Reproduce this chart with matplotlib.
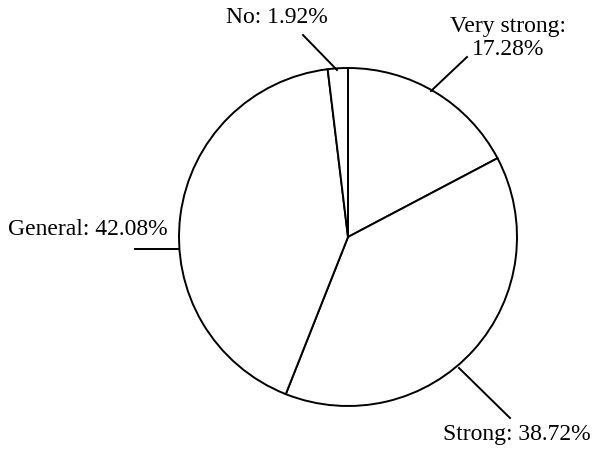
import matplotlib
matplotlib.use('Agg')
import matplotlib.pyplot as plt

# 数据
labels = ['Very strong', 'Strong', 'General', 'No']
shares = [17.28, 38.72, 42.08, 1.92]

# 标签位置 (像素, 从上往下量)
text_pos = [(508, 38, 'center'), (443, 440, 'left'), (8, 235, 'left'), (226, 23, 'left')]
# 引线 (起点在圆上, 终点靠近文字)
leaders = [((431, 91), (467, 57)),
           ((459, 368), (510, 418)),
           ((178, 249), (135, 249)),
           ((337, 70), (303, 35))]

W, H = 595, 449
fig = plt.figure(figsize=(W / 100, H / 100), dpi=100)
ax = fig.add_axes([0, 0, 1, 1])
ax.axis('off')

ax.pie(shares, startangle=90, counterclock=False, colors=['white'] * 4,
       center=(348, H - 237), radius=169,
       wedgeprops=dict(edgecolor='black', linewidth=1.4))
ax.set_xlim(0, W)
ax.set_ylim(0, H)
ax.set_aspect('equal')

for name, v, (tx, ty, ha), (p0, p1) in zip(labels, shares, text_pos, leaders):
    ax.plot([p0[0], p1[0]], [H - p0[1], H - p1[1]], color='black', lw=1.4)
    if name == 'Very strong':
        s = '%s:\n%.2f%%' % (name, v)
        ax.text(tx, H - ty, s, ha='center', va='center', fontsize=17,
                family='Liberation Serif', linespacing=1.15)
    else:
        s = '%s: %.2f%%' % (name, v)
        ax.text(tx, H - ty, s, ha=ha, va='baseline', fontsize=17,
                family='Liberation Serif')

fig.savefig('out.png', dpi=100)
